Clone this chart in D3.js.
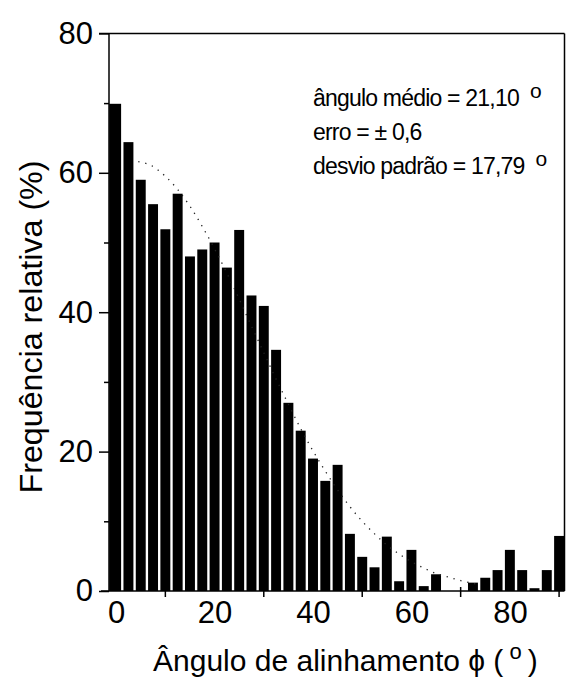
<!DOCTYPE html>
<html>
<head>
<meta charset="utf-8">
<script src="https://cdn.jsdelivr.net/npm/d3@7"></script>
<style>
  html, body { margin: 0; padding: 0; background: #fff; }
  svg { display: block; }
  text { font-family: "Liberation Sans", Arial, Helvetica, sans-serif; fill: #000; }
</style>
</head>
<body>
<svg id="chart" width="566" height="681"></svg>
<script>
// ---- data ----
const angles = [0, 2.5, 5, 7.5, 10, 12.5, 15, 17.5, 20, 22.5, 25, 27.5, 30, 32.5, 35, 37.5, 40, 42.5, 45, 47.5,
                50, 52.5, 55, 57.5, 60, 62.5, 65, 67.5, 70, 72.5, 75, 77.5, 80, 82.5, 85, 87.5, 90];
const freq = [69.9, 64.4, 59.0, 55.5, 51.9, 57.0, 48.0, 49.0, 50.0, 46.4, 51.8, 42.4, 40.9, 34.6, 27.0, 23.0, 19.0, 15.8, 18.1, 8.2,
              4.9, 3.4, 7.8, 1.4, 5.9, 0.7, 2.4, 0, 0, 1.2, 1.9, 3.0, 5.9, 3.0, 0.4, 3.0, 7.9];
// dotted fitted curve
const fitAngles = [4.5, 7, 10, 12.5, 15, 17.5, 20, 22.5, 25, 27.5, 30, 32.5, 35, 37.5, 40, 42.5, 45, 47.5, 50, 52.5,
                   55, 57.5, 60, 62.5, 65, 67.5, 70, 72.5, 74];
const fitValues = [61.6, 61.1, 59.5, 57.6, 55.2, 52.3, 49.1, 45.6, 41.9, 38.0, 34.2, 30.4, 26.8, 23.3, 20.1, 17.2, 14.5, 12.1, 10.0, 8.2,
                   6.6, 5.3, 4.2, 3.3, 2.5, 2.0, 1.5, 1.1, 0.9];
const yMajorTicks = [0, 20, 40, 60, 80];
const yMinorTicks = [10, 30, 50, 70];
const xMajorTicks = [0, 20, 40, 60, 80];
const xMinorTicks = [10, 30, 50, 70, 90];
const yTitle = "Frequência relativa (%)";
const xTitleMain = "Ângulo de alinhamento ϕ (";
const annotations = [
  { main: "ângulo médio = 21,10", sup: "o" },
  { main: "erro = ± 0,6", sup: "" },
  { main: "desvio padrão = 17,79", sup: "o" }
];

// ---- layout ----
const svg = d3.select("#chart");
const pL = 109, pR = 564.5, pT = 33.4, pB = 591;
const x = d3.scaleLinear().domain([-1.45, 91.1]).range([pL, pR]);
const y = d3.scaleLinear().domain([0, 80]).range([pB, pT]);
const halfBar = 1.01;

// bars
svg.append("g").selectAll("rect")
  .data(angles.map((a, i) => ({ a, v: freq[i] })))
  .join("rect")
  .attr("x", d => Math.max(pL, x(d.a - halfBar) - (d.a === 0 ? 2 : 0)))
  .attr("width", d => x(d.a + halfBar) - Math.max(pL, x(d.a - halfBar) - (d.a === 0 ? 2 : 0)))
  .attr("y", d => y(d.v))
  .attr("height", d => y(0) - y(d.v))
  .attr("fill", "#000");

// dotted curve
const line = d3.line().x(d => x(d[0])).y(d => y(d[1])).curve(d3.curveCatmullRom);
svg.append("path")
  .datum(fitAngles.map((a, i) => [a, fitValues[i]]))
  .attr("d", line)
  .attr("fill", "none")
  .attr("stroke", "#222")
  .attr("stroke-width", 1.3)
  .attr("stroke-dasharray", "1.3,5.8");

// frame lines
const frame = svg.append("g").attr("stroke", "#000").attr("stroke-width", 1.5).attr("fill", "none");
frame.append("line").attr("x1", pL).attr("x2", pL).attr("y1", pT).attr("y2", pB);
frame.append("line").attr("x1", pL - 10).attr("x2", pR).attr("y1", pT).attr("y2", pT);
frame.append("line").attr("x1", pR).attr("x2", pR).attr("y1", pT).attr("y2", pB);
frame.append("line").attr("x1", pL - 8).attr("x2", pR).attr("y1", pB).attr("y2", pB);

// y axis (majors with labels, minors without)
const yAxisMajor = d3.axisLeft(y).tickValues(yMajorTicks).tickSize(10).tickPadding(6).tickFormat(d3.format("d"));
const gy = svg.append("g").attr("transform", `translate(${pL},0)`).call(yAxisMajor);
gy.select(".domain").remove();
gy.selectAll("line").attr("stroke", "#000").attr("stroke-width", 1.5);
gy.selectAll("text").attr("font-size", 31).style("font-family", '"Liberation Sans", Arial, sans-serif');
const yAxisMinor = d3.axisLeft(y).tickValues(yMinorTicks).tickSize(5).tickFormat("");
const gy2 = svg.append("g").attr("transform", `translate(${pL},0)`).call(yAxisMinor);
gy2.select(".domain").remove();
gy2.selectAll("line").attr("stroke", "#000").attr("stroke-width", 1.5);

// x axis: labels (major ticks hidden behind bars), minor ticks crossing
const xAxisMajor = d3.axisBottom(x).tickValues(xMajorTicks).tickSize(0).tickPadding(10).tickFormat(d3.format("d"));
const gx = svg.append("g").attr("transform", `translate(0,${pB})`).call(xAxisMajor);
gx.select(".domain").remove();
gx.selectAll("text").attr("font-size", 31).style("font-family", '"Liberation Sans", Arial, sans-serif');
svg.append("g").selectAll("line")
  .data(xMinorTicks)
  .join("line")
  .attr("x1", d => x(d)).attr("x2", d => x(d))
  .attr("y1", pB - 4).attr("y2", pB + 6)
  .attr("stroke", "#000").attr("stroke-width", 1.5);

// y title
svg.append("text")
  .attr("transform", "translate(42,327) rotate(-90)")
  .attr("text-anchor", "middle")
  .attr("font-size", 31)
  .attr("textLength", 333)
  .attr("lengthAdjust", "spacingAndGlyphs")
  .text(yTitle);

// x title
const xt = svg.append("text")
  .attr("x", 153).attr("y", 671)
  .attr("font-size", 30);
xt.append("tspan").text(xTitleMain);
xt.append("tspan").attr("dx", 6).attr("dy", -12).attr("font-size", 22).text("o");
xt.append("tspan").attr("dx", 6).attr("dy", 12).text(")");

// annotation block
const baselines = [106, 140, 174];
annotations.forEach((a, i) => {
  const t = svg.append("text")
    .attr("x", 313).attr("y", baselines[i])
    .attr("font-size", 23)
    .attr("letter-spacing", -0.8);
  t.append("tspan").text(a.main);
  if (a.sup) {
    t.append("tspan").attr("dx", 11).attr("dy", -8).attr("font-size", 21).attr("letter-spacing", 0).text(a.sup);
  }
});
</script>
</body>
</html>
